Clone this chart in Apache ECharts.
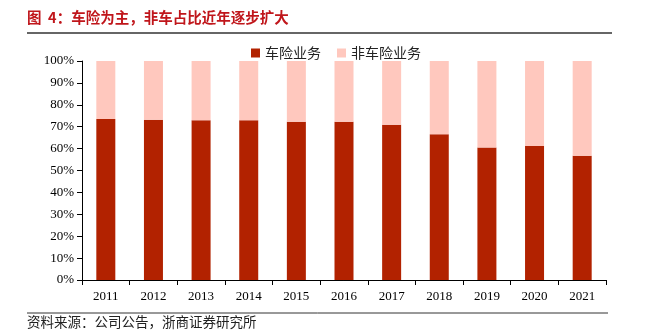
<!DOCTYPE html>
<html><head><meta charset="utf-8">
<script src="https://cdn.jsdelivr.net/npm/echarts@6/dist/echarts.min.js"></script>
<style>html,body{margin:0;padding:0;background:#fff}#c{width:650px;height:331px}</style>
</head><body><div id="c"></div>
<script>
const categories = ['2011','2012','2013','2014','2015','2016','2017','2018','2019','2020','2021'];
const carShare = [73.5, 73.2, 72.9, 73.0, 72.3, 72.3, 70.9, 66.5, 60.5, 61.2, 56.7];
const nonCarShare = carShare.map(v => +(100 - v).toFixed(1));
const yTicks = [0,10,20,30,40,50,60,70,80,90,100];
const seriesNames = ['车险业务','非车险业务'];

const chart = echarts.init(document.getElementById('c'));
const serif = '"Liberation Serif","DejaVu Serif",serif';
const cjk = '"Noto Sans CJK SC",sans-serif';
chart.setOption({
  animation:false,
  grid:{left:82,right:44,top:61,bottom:51},
  legend:{top:41,left:246,itemWidth:9,itemHeight:9,itemGap:16,icon:'rect',
    textStyle:{fontFamily:cjk,fontSize:14,color:'#222'},data:seriesNames},
  xAxis:{type:'category',data:categories,
    axisLine:{lineStyle:{color:'#000'}},
    axisTick:{show:true,alignWithLabel:false,length:5,lineStyle:{color:'#000'}},
    axisLabel:{fontFamily:serif,fontSize:13,color:'#000',margin:10}},
  yAxis:{type:'value',min:0,max:100,interval:10,
    axisLine:{show:true,lineStyle:{color:'#000'}},
    axisTick:{show:true,length:5,lineStyle:{color:'#000'}},
    splitLine:{show:false},
    axisLabel:{fontFamily:serif,fontSize:13,color:'#000',margin:8,
      formatter:v=> yTicks.includes(v) ? v+'%' : ''}},
  series:[
    {name:seriesNames[0],type:'bar',stack:'s',data:carShare,barWidth:19,
      itemStyle:{color:'#B22200'}},
    {name:seriesNames[1],type:'bar',stack:'s',data:nonCarShare,barWidth:19,
      itemStyle:{color:'#FFC8BE'}}
  ],
  graphic:[
    {type:'text',left:27,top:10,style:{text:'图  4：车险为主，非车占比近年逐步扩大',
      font:'bold 14.5px "Noto Sans CJK SC",sans-serif',fill:'#C0161B'}},
    {type:'line',shape:{x1:27,y1:33,x2:612,y2:33},style:{stroke:'#333',lineWidth:1.5}},
    {type:'line',shape:{x1:27,y1:313,x2:608,y2:313},style:{stroke:'#333',lineWidth:1}},
    {type:'text',left:27,top:315,style:{text:'资料来源：公司公告，浙商证券研究所',
      font:'13.5px "Noto Sans CJK SC",sans-serif',fill:'#222'}}
  ]
});
</script></body></html>
